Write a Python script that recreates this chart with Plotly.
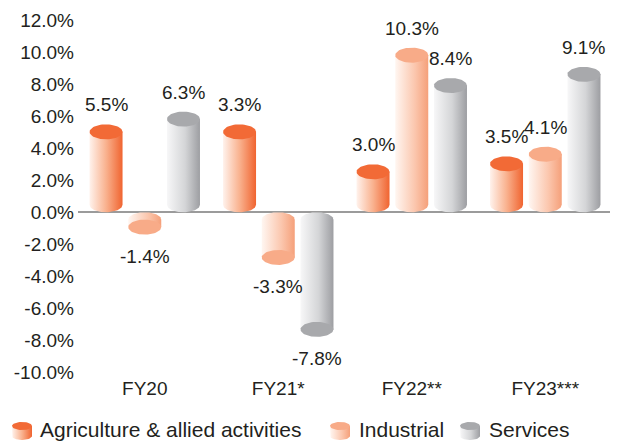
import numpy as np
import plotly.graph_objects as go

# data
years = ['FY20', 'FY21*', 'FY22**', 'FY23***']
agri = [5.5, 5.5, 3.0, 3.5]            # bar heights as drawn
agri_text = ['5.5%', '3.3%', '3.0%', '3.5%']
industrial = [-1.4, -3.3, 10.3, 4.1]
industrial_text = ['-1.4%', '-3.3%', '10.3%', '4.1%']
services = [6.3, -7.8, 8.4, 9.1]
services_text = ['6.3%', '-7.8%', '8.4%', '9.1%']
tick_vals = [-10, -8, -6, -4, -2, 0, 2, 4, 6, 8, 10, 12]

# the page body has an 8px margin, so the figure is drawn 8px smaller
OFF = 8
W, H = 618 - OFF, 443 - OFF
FONT = 'Liberation Sans, Arial, sans-serif'
TXT = '#231f20'

# plot area in (page) pixels
px_l, px_r = 78 - OFF, 612 - OFF
px_t, px_b = 20.5 - OFF, 372 - OFF
y_min, y_max = -10, 12
x_min, x_max = -0.5, 3.5
ppx = (px_r - px_l) / (x_max - x_min)
ppy = (px_b - px_t) / (y_max - y_min)

A = 16.5 / ppx   # half width of a cylinder
E = 7.5 / ppy    # half height of the ellipse

series = [
    dict(name='Agriculture & allied activities', vals=agri, text=agri_text, off=-0.29,
         cap='#f26a36', grad=[[0, '#fff2ec'], [0.5, '#f9b28f'], [1, '#f06430']]),
    dict(name='Industrial', vals=industrial, text=industrial_text, off=0.0,
         cap='#f8ab88', grad=[[0, '#fff6f1'], [0.6, '#fbc6ad'], [1, '#f5a07a']]),
    dict(name='Services', vals=services, text=services_text, off=0.29,
         cap='#a8a9ac', grad=[[0, '#f7f7f8'], [0.55, '#d4d5d7'], [1, '#9d9ea2']]),
]


def cylinder(xc, v):
    t = np.linspace(0, np.pi, 40)
    s = 1 if v >= 0 else -1
    bx = xc - A * np.cos(t)
    by = s * E - s * E * np.sin(t)
    cap_c = v - s * E
    xs = list(bx) + [xc + A, xc - A, bx[0]]
    ys = list(by) + [cap_c, cap_c, by[0]]
    tt = np.linspace(0, 2 * np.pi, 60)
    cx = xc + A * np.cos(tt)
    cy = cap_c + E * np.sin(tt)
    return xs, ys, cx, cy


fig = go.Figure()
annotations = []

for sr in series:
    for i, v in enumerate(sr['vals']):
        xc = i + sr['off']
        xs, ys, cx, cy = cylinder(xc, v)
        fig.add_trace(go.Scatter(x=xs, y=ys, mode='lines', fill='toself',
                                 fillgradient=dict(type='horizontal', colorscale=sr['grad']),
                                 line=dict(width=0), hoverinfo='skip', showlegend=False))
        fig.add_trace(go.Scatter(x=cx, y=cy, mode='lines', fill='toself', fillcolor=sr['cap'],
                                 line=dict(width=0), hoverinfo='skip', showlegend=False))
        if v >= 0:
            annotations.append(dict(x=xc, y=v, xref='x', yref='y', text=sr['text'][i],
                                    showarrow=False, yanchor='bottom', yshift=7,
                                    font=dict(size=19, color=TXT, family=FONT)))
        else:
            annotations.append(dict(x=xc, y=v, xref='x', yref='y', text=sr['text'][i],
                                    showarrow=False, yanchor='top', yshift=-9,
                                    font=dict(size=19, color=TXT, family=FONT)))

# custom legend: small cup icons drawn in a pixel-based overlay axis
legend_icon_x = [22 - OFF, 340 - OFF, 470 - OFF]
legend_text_x = [38 - OFF, 357 - OFF, 487 - OFF]
for sr, ix, tx in zip(series, legend_icon_x, legend_text_x):
    t = np.linspace(0, np.pi, 30)
    a, e = 10, 4
    top = 426 - OFF
    bx = ix - a * np.cos(t)
    by = top + 10 + e * np.sin(t)
    xs = [ix - a] + list(bx) + [ix + a, ix - a]
    ys = [top] + list(by) + [top, top]
    fig.add_trace(go.Scatter(x=xs, y=ys, xaxis='x2', yaxis='y2', mode='lines', fill='toself',
                             fillgradient=dict(type='horizontal', colorscale=sr['grad']),
                             line=dict(width=0), hoverinfo='skip', showlegend=False))
    tt = np.linspace(0, 2 * np.pi, 50)
    fig.add_trace(go.Scatter(x=ix + a * np.cos(tt), y=top + e * np.sin(tt), xaxis='x2', yaxis='y2',
                             mode='lines', fill='toself', fillcolor=sr['cap'],
                             line=dict(width=0), hoverinfo='skip', showlegend=False))
    annotations.append(dict(x=tx / W, y=1 - (429 - OFF) / H, xref='paper', yref='paper',
                            text=sr['name'], showarrow=False, xanchor='left', yanchor='middle',
                            font=dict(size=21, color=TXT, family=FONT)))

fig.update_layout(
    width=W, height=H,
    margin=dict(l=0, r=0, t=0, b=0, autoexpand=False),
    paper_bgcolor='white', plot_bgcolor='rgba(0,0,0,0)',
    showlegend=False,
    annotations=annotations,
    xaxis=dict(domain=[px_l / W, px_r / W], range=[x_min, x_max], tickvals=list(range(len(years))),
               ticktext=years, showgrid=False, zeroline=False, showline=False, ticks='',
               automargin=False, ticklabelstandoff=3,
               tickfont=dict(size=19, color=TXT, family=FONT)),
    yaxis=dict(domain=[1 - px_b / H, 1 - px_t / H], range=[y_min, y_max], tickvals=tick_vals,
               ticktext=['%.1f%%' % v for v in tick_vals], showgrid=False,
               zeroline=True, zerolinecolor='#9b9b9b', zerolinewidth=1.5, showline=False,
               ticks='', automargin=False, ticklabelstandoff=3,
               tickfont=dict(size=19, color=TXT, family=FONT)),
    xaxis2=dict(domain=[0, 1], range=[0, W], visible=False, anchor='y2', automargin=False),
    yaxis2=dict(domain=[0, 1], range=[H, 0], visible=False, anchor='x2', automargin=False),
)

fig.write_html('out.html')
